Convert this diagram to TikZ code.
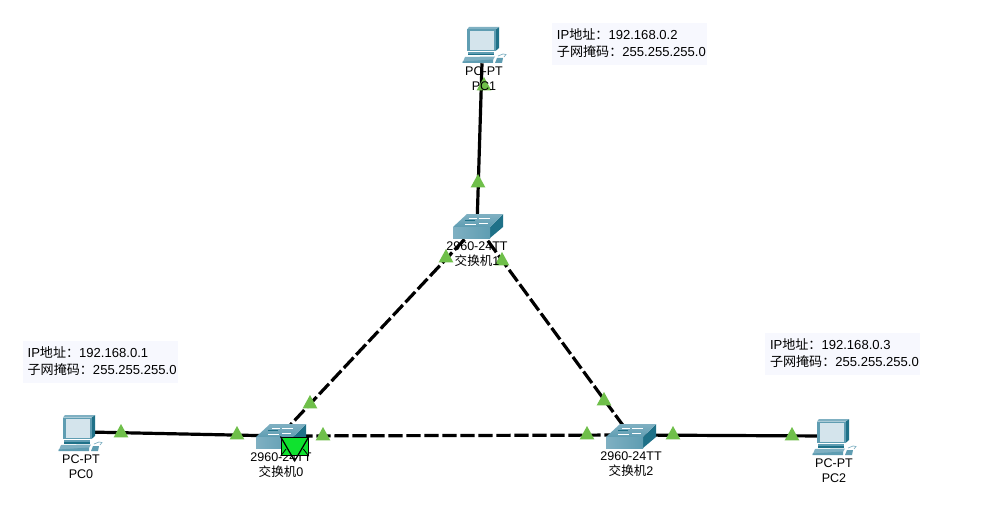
\documentclass[tikz,border=0pt]{standalone}
\usepackage{fontspec}
\setmainfont{Liberation Sans}
\newfontfamily\cjk{Noto Sans CJK SC}
\usetikzlibrary{shapes.geometric}
\definecolor{tealmid}{HTML}{5F9DB2}
\definecolor{tealdark}{HTML}{1F7188}
\definecolor{teallight}{HTML}{7FB0C2}
\definecolor{screenc}{HTML}{D4E4EC}
\definecolor{boxbg}{HTML}{F7F8FE}
\definecolor{porta}{HTML}{6FBF4A}
\definecolor{mailc}{HTML}{0FE22F}
\tikzset{
  x=0.75pt,y=-0.75pt,
  link/.style={line width=2.4pt,black},
  dashlink/.style={link,dash pattern=on 10.7pt off 2.8pt},
  port/.style={isosceles triangle,shape border rotate=90,isosceles triangle stretches,
    fill=porta,inner sep=0pt,minimum width=11pt,minimum height=10pt,anchor=center},
  devlabel/.style={align=center,font=\fontsize{9.4pt}{11.25pt}\selectfont,inner sep=0pt},
  infoback/.style={anchor=north west,fill=boxbg,inner sep=0pt,minimum width=116.25pt,minimum height=31.5pt},
  infobox/.style={anchor=north west,inner sep=0pt,minimum width=116.25pt,minimum height=31.5pt,
    align=left,font=\fontsize{9.8pt}{13.2pt}\selectfont},
  pcicon/.pic={
    % origin is the top-left corner of the monitor
    \fill[tealdark] (28.5,2.5)--(32,0)--(32,21)--(28.5,24)--cycle;
    \fill[teallight] (0,2.5)--(2,0)--(32,0)--(28.5,2.5)--cycle;
    \fill[tealmid] (0,2.5) rectangle (28.5,24);
    \fill[screenc] (2.5,4) rectangle (26.5,23);
    \fill[tealmid] (1,25) rectangle (27,27);
    \fill[tealdark] (1,27) rectangle (27,28.5);
    \fill[teallight] (-2,30)--(28,29.5)--(26,33)--(-4.5,36)--cycle;
    \fill[tealmid] (-4.5,34.5)--(26,32.5)--(26,36)--(-4.5,36)--cycle;
    \fill[tealmid] (30,31)--(36,31)--(35,36)--(28,36)--cycle;
    \draw[teallight,line width=0.5pt] (31,29)--(36,27)--(39,27.5)--(37,30);
  },
  switchicon/.pic={
    % origin is the front top-left corner
    \fill[tealdark] (37,0)--(50,-13)--(50,0)--(37,11)--cycle;
    \shade[top color=teallight,bottom color=tealmid] (0,0)--(14,-13)--(50,-13)--(37,0)--cycle;
    \shade[left color=teallight,right color=tealmid] (0,0) rectangle (37,11);
    \draw[white,line width=0.6pt] (12,-3)--(23,-3) (26,-9)--(37,-9) (26,-4)--(35,-4) (16,-9)--(24,-9);
    \draw[tealdark,line width=0.5pt] (12,-6.5)--(22,-6.5);
  },
}
\begin{document}
\begin{tikzpicture}
\useasboundingbox (0,0) rectangle (994,517);
\fill[white] (0,0) rectangle (994,517);

% Device attachment points and centres
\node[inner sep=0pt,minimum size=0pt] (pc0) at (88,432) {};
\node[inner sep=0pt,minimum size=0pt] (pc1) at (482,63) {};
\node[inner sep=0pt,minimum size=0pt] (pc2) at (826,436) {};
\node[inner sep=0pt,minimum size=0pt] (sw0) at (280,436) {};
\node[inner sep=0pt,minimum size=0pt] (sw1) at (477,226) {};
\node[inner sep=0pt,minimum size=0pt] (sw2) at (630,435) {};

% Links
\draw[link] (pc1) -- (sw1);
\draw[link] (pc0) -- (sw0);
\draw[link] (sw2) -- (pc2);
\draw[dashlink] (sw1) -- (sw0);
\draw[dashlink] (sw1) -- (sw2);
\draw[dashlink] (sw0) -- (sw2);

% Port lights
\node[port] (t1) at (484,86) {};
\node[port] (t2) at (478,183) {};
\node[port] (t3) at (446,258) {};
\node[port] (t4) at (502,261) {};
\node[port] (t5) at (310,404) {};
\node[port] (t6) at (604,401) {};
\node[port] (t7) at (121,433) {};
\node[port] (t8) at (237,435) {};
\node[port] (t9) at (323,436) {};
\node[port] (t10) at (587,435) {};
\node[port] (t11) at (673,435) {};
\node[port] (t12) at (792,436) {};

% Icons
\pic at (63,415) {pcicon};
\pic at (467,27) {pcicon};
\pic at (817,419) {pcicon};
\pic at (256,437) {switchicon};
\pic at (453,227) {switchicon};
\pic at (606,437) {switchicon};

% Device labels
\node[devlabel] (l0) at (81,466.5) {PC-PT\\PC0};
\node[devlabel] (l1) at (484,78.5) {PC-PT\\PC1};
\node[devlabel] (l2) at (834,470.5) {PC-PT\\PC2};
\node[devlabel] (l3) at (281,465) {2960-24TT\\{\cjk 交换机}0};
\node[devlabel] (l4) at (477,254.5) {2960-24TT\\{\cjk 交换机}1};
\node[devlabel] (l5) at (631,464) {2960-24TT\\{\cjk 交换机}2};

% Address notes
\node[infoback] (b0) at (23,341) {};
\node[infoback] (b1) at (552,23) {};
\node[infoback] (b2) at (765,333) {};
\node[infobox] (n0) at (23,340) {\hspace{2pt}IP{\cjk 地址：}192.168.0.1\\[-0.6pt]\hspace{2pt}{\cjk 子网掩码：}255.255.255.0};
\node[infobox] (n1) at (552,22) {\hspace{2.5pt}IP{\cjk 地址：}192.168.0.2\\[-0.6pt]\hspace{2.5pt}{\cjk 子网掩码：}255.255.255.0};
\node[infobox] (n2) at (765,332) {\hspace{2.5pt}IP{\cjk 地址：}192.168.0.3\\[-0.6pt]\hspace{2.5pt}{\cjk 子网掩码：}255.255.255.0};

% Envelope
\node[draw=black,fill=mailc,line width=0.8pt,inner sep=0pt,minimum width=20.5pt,minimum height=14pt,anchor=north west] (mail) at (280.5,436.5) {};
\draw[black,line width=0.9pt] (mail.north west) -- ([yshift=-3.5pt]mail.south) -- (mail.north east);
\draw[black,line width=0.6pt] (mail.south west) -- ([xshift=-6.5pt,yshift=-2pt]mail.center);
\draw[black,line width=0.6pt] (mail.south east) -- ([xshift=6.5pt,yshift=-2pt]mail.center);
\end{tikzpicture}
\end{document}
